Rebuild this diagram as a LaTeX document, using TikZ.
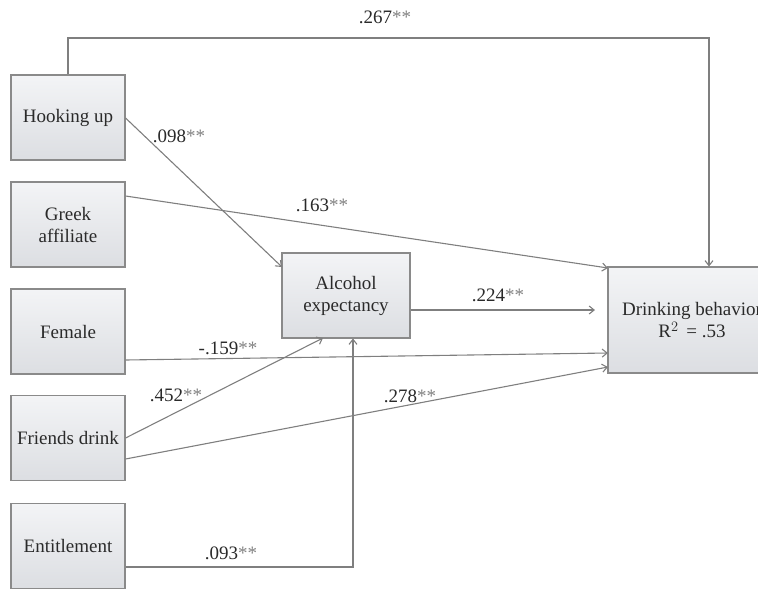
\documentclass[tikz,border=0pt]{standalone}
\usepackage{fontspec}
\setmainfont{Liberation Serif}
\usetikzlibrary{arrows.meta}
\definecolor{linegray}{HTML}{7F7F7F}
\definecolor{boxline}{HTML}{8A8A8A}
\definecolor{txt}{HTML}{2A2A2A}
\definecolor{boxtop}{HTML}{F3F4F6}
\definecolor{boxbot}{HTML}{DCDEE2}
\tikzset{
  varbox/.style={draw=boxline, line width=1.1pt, top color=boxtop, bottom color=boxbot,
     minimum width=114pt, minimum height=85pt, inner sep=0pt, align=center,
     font=\fontsize{19}{22}\selectfont, text=txt},
  conn/.style={draw=linegray, line width=1.1pt, -{Straight Barb[length=5pt,width=8pt]}},
  coef/.style={font=\fontsize{19}{22}\selectfont, text=txt, inner sep=0pt}
}
\newcommand{\stars}{\textcolor{gray}{**}}
\begin{document}
\begin{tikzpicture}[x=1pt,y=-1pt]
\useasboundingbox (0,0) rectangle (758,592);
\begin{scope}
\clip (0,0) rectangle (758,592);
\node[varbox] (hook) at (68,117.5) {Hooking up};
\node[varbox] (greek) at (68,224.5) {Greek\\affiliate};
\node[varbox] (female) at (68,331.5) {Female};
\node[varbox] (friends) at (68,438) {Friends drink};
\node[varbox] (entit) at (68,546) {Entitlement};
\node[varbox, minimum width=128pt] (alc) at (346,295.5) {Alcohol\\expectancy};
\node[varbox, minimum width=168pt, minimum height=106pt] (drink) at (692,320) {Drinking behavior\\R$^{2}$ \,= .53};

\coordinate (topL) at (68,38);
\coordinate (topR) at (709,38);
\coordinate (alcEnd) at (595,310);
\coordinate (entCorner) at (353,567);

\draw[conn] (hook.north) -- (topL) -- (topR) -- (drink.north -| topR);
\draw[conn] (hook.east |- 0,118) -- (282,267);
\draw[conn] (greek.east |- 0,196) -- (608,268);
\draw[conn] (alc.east |- 0,310) -- (alcEnd);
\draw[conn] (female.east |- 0,360) -- (608,353);
\draw[conn] (friends.east |- 0,438) -- (323,338);
\draw[conn] (friends.east |- 0,459) -- (608,367);
\draw[conn] (entit.east |- 0,567) -- (entCorner) -- (alc.south -| entCorner);

\node[coef] (c267) at (385,17) {.267\stars};
\node[coef] (c098) at (179,136) {.098\stars};
\node[coef] (c163) at (322,205) {.163\stars};
\node[coef] (c224) at (498,295) {.224\stars};
\node[coef] (c159) at (228,348) {-.159\stars};
\node[coef] (c452) at (176,395) {.452\stars};
\node[coef] (c278) at (410,396) {.278\stars};
\node[coef] (c093) at (231,553) {.093\stars};
\end{scope}
\end{tikzpicture}
\end{document}
